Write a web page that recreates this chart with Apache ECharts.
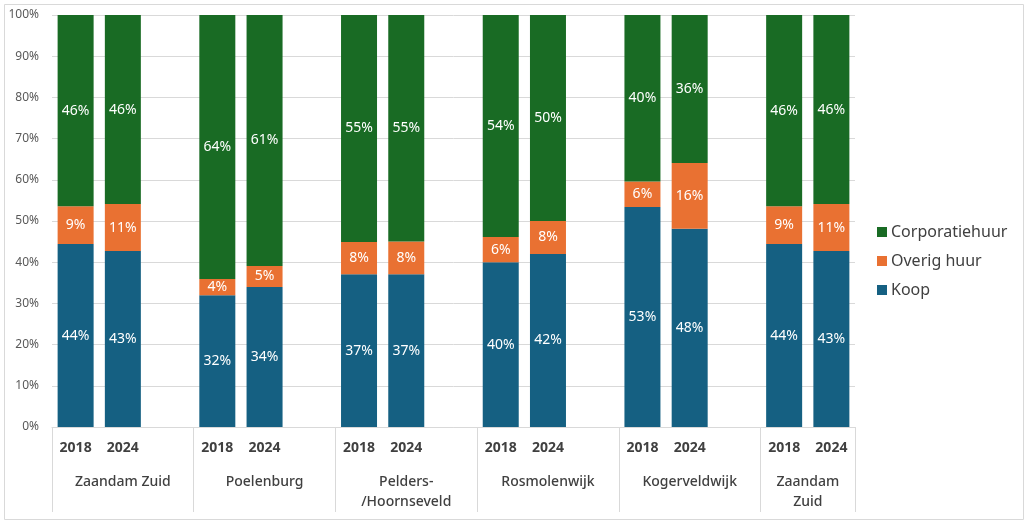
<!DOCTYPE html>
<html>
<head>
<meta charset="utf-8">
<script src="https://cdn.jsdelivr.net/npm/echarts@6/dist/echarts.min.js"></script>
<style>
html,body{margin:0;padding:0;background:#fff;}
#c{width:1024px;height:521px;}
</style>
</head>
<body>
<div id="c"></div>
<script>
// ---- data ----
var groups = ['Zaandam Zuid', 'Poelenburg', 'Pelders-\n/Hoornseveld', 'Rosmolenwijk', 'Kogerveldwijk', 'Zaandam\nZuid'];
var years = ['2018', '2024'];
// one value per bar, in order group1-2018, group1-2024, group2-2018, ...
var koop       = [44.4, 42.7, 32.0, 34.0, 37.1, 37.1, 40.0, 42.0, 53.4, 48.1, 44.4, 42.7];
var overigHuur = [ 9.2, 11.4,  3.9,  5.1,  7.8,  7.9,  6.1,  8.0,  6.2, 16.0,  9.2, 11.4];
var corporatie = [46.4, 45.9, 64.1, 60.9, 55.1, 55.0, 53.9, 50.0, 40.4, 35.9, 46.4, 45.9];
var yTicks = [0, 10, 20, 30, 40, 50, 60, 70, 80, 90, 100];

// ---- build slot layout (empty slot between groups) ----
var categories = [];
var slotIndex = [];
var groupStart = [];
groups.forEach(function (g, gi) {
  groupStart.push(categories.length);
  years.forEach(function (y) { slotIndex.push(categories.length); categories.push(y); });
  if (gi < groups.length - 1) categories.push('');
});
var nSlots = categories.length;
function toSlots(arr) {
  var out = categories.map(function () { return null; });
  arr.forEach(function (v, i) { out[slotIndex[i]] = v; });
  return out;
}
var boundaries = groupStart.concat([nSlots]);
var centers = groups.map(function (g, gi) { return (boundaries[gi] + boundaries[gi + 1]) / 2; });

var colors = { koop: '#156082', overig: '#E97132', corp: '#196B24' };
var font = '"Noto Sans", "Liberation Sans", sans-serif';

function lbl() {
  return {
    show: true, position: 'inside', color: '#ffffff', fontSize: 14, fontFamily: font,
    formatter: function (p) { return p.value == null ? '' : Math.round(p.value) + '%'; }
  };
}
function mk(name, data, color) {
  return {
    name: name, type: 'bar', stack: 'total', data: toSlots(data),
    barWidth: 36, itemStyle: { color: color }, label: lbl(), xAxisIndex: 0,
    emphasis: { disabled: true }
  };
}

var chart = echarts.init(document.getElementById('c'));
chart.setOption({
  animation: false,
  textStyle: { fontFamily: font },
  graphic: [{
    type: 'rect', left: 2, top: 2, silent: true,
    shape: { width: 1019, height: 515 },
    style: { fill: 'none', stroke: '#d9d9d9', lineWidth: 1 }
  }],
  grid: { left: 52, right: 169, top: 15, bottom: 94, containLabel: false },
  legend: {
    orient: 'vertical', left: 872, top: 219,
    itemWidth: 10, itemHeight: 10, itemGap: 13,
    icon: 'rect',
    data: ['Corporatiehuur', 'Overig huur', 'Koop'],
    textStyle: { fontSize: 16, color: '#404040', fontFamily: font, padding: [0, 0, 0, -1] }
  },
  xAxis: [{
    type: 'category', data: categories, position: 'bottom',
    axisLine: { show: true, lineStyle: { color: '#d9d9d9' } },
    axisTick: { show: false },
    axisLabel: { interval: 0, margin: 14, fontSize: 14, fontWeight: 'bold', color: '#404040', fontFamily: font }
  }, {
    type: 'value', min: 0, max: nSlots, position: 'bottom',
    splitLine: { show: false },
    axisLine: { show: false },
    axisTick: { show: true, customValues: boundaries, length: 85, lineStyle: { color: '#d9d9d9' } },
    axisLabel: {
      show: true, customValues: centers, margin: 45, fontSize: 14, fontWeight: 500,
      color: '#404040', fontFamily: font, lineHeight: 20, verticalAlign: 'top', align: 'center',
      formatter: function (v) {
        for (var i = 0; i < centers.length; i++) { if (Math.abs(centers[i] - v) < 1e-6) return groups[i]; }
        return '';
      }
    }
  }],
  yAxis: {
    type: 'value', min: yTicks[0], max: yTicks[yTicks.length - 1], interval: yTicks[1] - yTicks[0],
    axisLine: { show: false }, axisTick: { show: false },
    splitLine: { lineStyle: { color: '#d9d9d9' } },
    axisLabel: { formatter: '{value}%', fontSize: 12, color: '#595959', margin: 13, fontFamily: font }
  },
  series: [
    mk('Koop', koop, colors.koop),
    mk('Overig huur', overigHuur, colors.overig),
    mk('Corporatiehuur', corporatie, colors.corp)
  ]
});
</script>
</body>
</html>
